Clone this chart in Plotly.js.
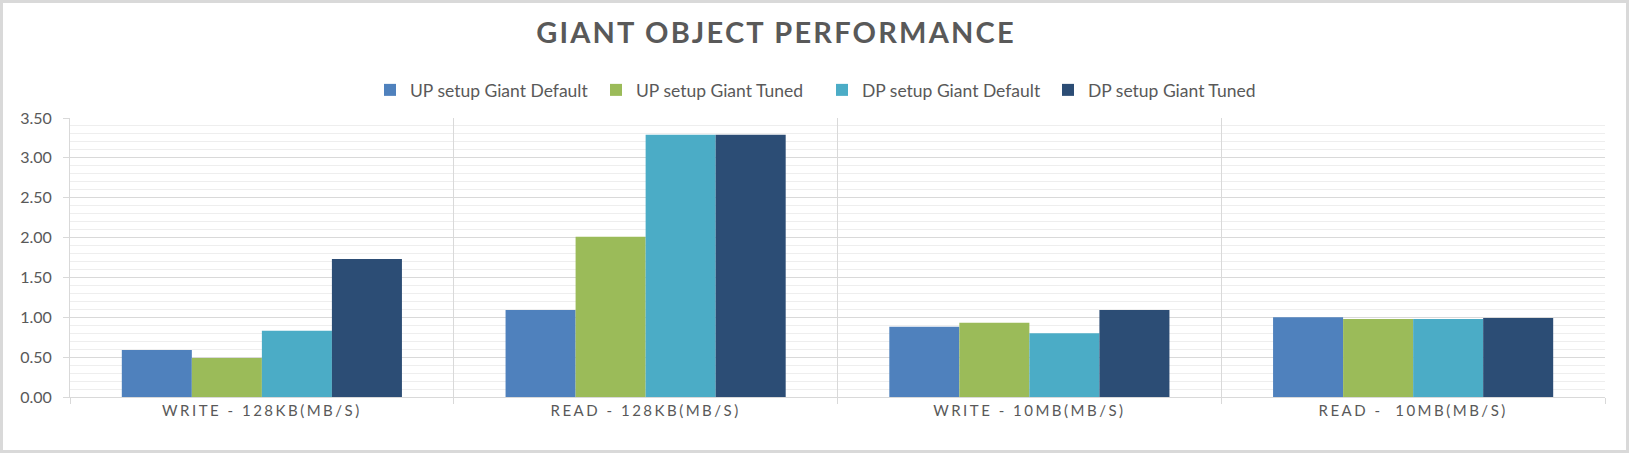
<!DOCTYPE html>
<html>
<head>
<meta charset="utf-8">
<script src="https://cdn.plot.ly/plotly-3.0.1.min.js"></script>
<style>
  body { margin: 0; background: #fff; }
  #wrap { position: relative; width: 1629px; height: 453px; }
  #chart { width: 1629px; height: 453px; }
  #frame { position: absolute; left: 0; top: 0; width: 1629px; height: 453px; box-sizing: border-box; border: 3px solid #d9d9d9; pointer-events: none; }
  .gtitle { letter-spacing: 2.2px; }
  .xtick text { letter-spacing: 2.5px; }
</style>
</head>
<body>
<div id="wrap"><div id="chart"></div><div id="frame"></div></div>
<script>
const categories = ["WRITE - 128KB(MB/S)", "READ - 128KB(MB/S)", "WRITE - 10MB(MB/S)", "READ - \u00a010MB(MB/S)"];
const seriesNames = ["UP setup Giant Default", "UP setup Giant Tuned", "DP setup Giant Default", "DP setup Giant Tuned"];
const upDefault = [0.59, 1.09, 0.88, 1.00];
const upTuned   = [0.49, 2.01, 0.93, 0.98];
const dpDefault = [0.83, 3.29, 0.80, 0.98];
const dpTuned   = [1.73, 3.29, 1.09, 0.99];
const yTickVals = [0, 0.5, 1, 1.5, 2, 2.5, 3, 3.5];

const colors = ["#4f81bd", "#9bbb59", "#4bacc6", "#2c4d75"];
const allSeries = [upDefault, upTuned, dpDefault, dpTuned];

const traces = allSeries.map((vals, i) => ({
  type: "bar",
  name: seriesNames[i],
  x: categories,
  y: vals,
  marker: { color: colors[i], line: { width: 0 } },
  hoverinfo: "x+y+name"
}));

const layout = {
  width: 1629,
  height: 453,
  paper_bgcolor: "#ffffff",
  plot_bgcolor: "#ffffff",
  font: { family: "Lato, 'Open Sans', sans-serif", color: "#595959", size: 16 },
  margin: { l: 70, r: 24, t: 118, b: 56, pad: 0 },
  title: {
    text: "<b>GIANT OBJECT PERFORMANCE</b>",
    font: { family: "Lato, 'Open Sans', sans-serif", size: 29, color: "#595959" },
    x: 776 / 1629, xref: "container", xanchor: "center",
    y: 1 - 33 / 453, yref: "container", yanchor: "middle"
  },
  showlegend: true,
  legend: {
    orientation: "h",
    x: 822 / 1629, xref: "container", xanchor: "center",
    y: 1 - 90 / 453, yref: "container", yanchor: "middle",
    font: { size: 17.5, color: "#595959" },
    bgcolor: "rgba(0,0,0,0)",
    traceorder: "normal",
    entrywidth: 181,
    entrywidthmode: "pixels"
  },
  barmode: "group",
  bargap: 0.27,
  bargroupgap: 0,
  xaxis: {
    type: "category",
    tickson: "boundaries",
    showgrid: true,
    gridcolor: "#d9d9d9",
    gridwidth: 1,
    ticks: "outside",
    ticklen: 6,
    tickcolor: "#d9d9d9",
    showline: true,
    linecolor: "#d9d9d9",
    linewidth: 1,
    tickfont: { size: 15, color: "#595959" },
    zeroline: false,
    fixedrange: true
  },
  yaxis: {
    range: [0, 3.5],
    tickvals: yTickVals,
    tickformat: ".2f",
    showgrid: true,
    gridcolor: "#d9d9d9",
    gridwidth: 1,
    minor: { dtick: 0.1, showgrid: true, gridcolor: "#eeeeee", gridwidth: 1, ticks: "" },
    ticks: "outside",
    ticklen: 6,
    tickcolor: "#d9d9d9",
    ticklabelstandoff: 8,
    showline: true,
    linecolor: "#d9d9d9",
    linewidth: 1,
    zeroline: false,
    tickfont: { size: 16, color: "#595959" },
    fixedrange: true
  }
};

Plotly.newPlot("chart", traces, layout, { displayModeBar: false, responsive: false });
</script>
</body>
</html>
